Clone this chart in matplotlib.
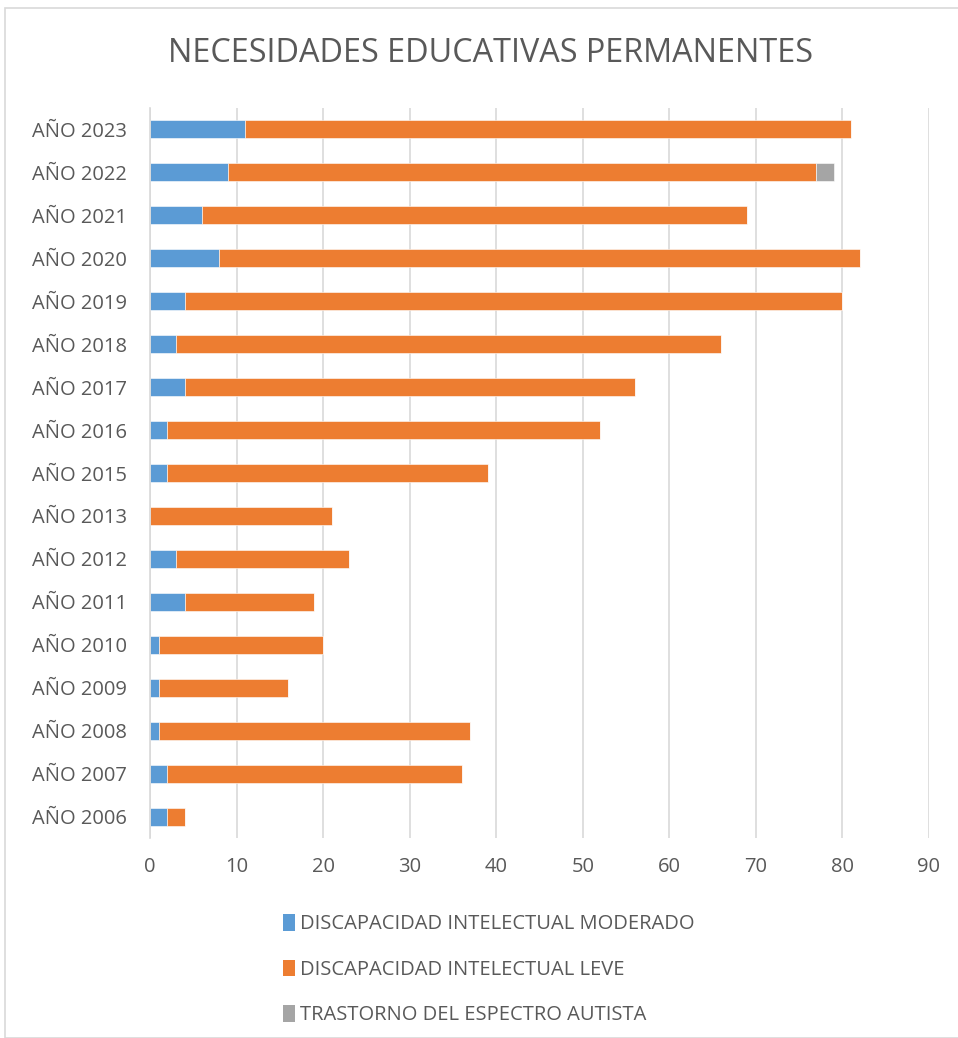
import matplotlib
matplotlib.use("Agg")
import matplotlib.pyplot as plt
from matplotlib.patches import Rectangle, Patch

years = ["AÑO 2006", "AÑO 2007", "AÑO 2008", "AÑO 2009", "AÑO 2010", "AÑO 2011",
         "AÑO 2012", "AÑO 2013", "AÑO 2015", "AÑO 2016", "AÑO 2017", "AÑO 2018",
         "AÑO 2019", "AÑO 2020", "AÑO 2021", "AÑO 2022", "AÑO 2023"]
moderado = [2, 2, 1, 1, 1, 4, 3, 0, 2, 2, 4, 3, 4, 8, 6, 9, 11]
leve = [2, 34, 36, 15, 19, 15, 20, 21, 37, 50, 52, 63, 76, 74, 63, 68, 70]
autista = [0, 0, 0, 0, 0, 0, 0, 0, 0, 0, 0, 0, 0, 0, 0, 2, 0]
series_names = ["DISCAPACIDAD INTELECTUAL MODERADO", "DISCAPACIDAD INTELECTUAL LEVE",
                "TRASTORNO DEL ESPECTRO AUTISTA"]
xticks = [0, 10, 20, 30, 40, 50, 60, 70, 80, 90]

colors = ["#5B9BD5", "#ED7D31", "#A5A5A5"]
txt = "#595959"
plt.rcParams['font.family'] = ['Open Sans', 'DejaVu Sans']

W, H = 958, 1038
fig = plt.figure(figsize=(W / 100, H / 100), dpi=100)
fig.patches.append(Rectangle((5 / W, 0), 1.0, 1 - 8 / H, transform=fig.transFigure,
                             facecolor="none", edgecolor="#D9D9D9", linewidth=1.2))

ax = fig.add_axes([150 / W, 1 - 838 / H, (929 - 150) / W, (838 - 108) / H])
pos = list(range(len(years)))
h = 0.42
left2 = moderado
left3 = [a + b for a, b in zip(moderado, leve)]
ax.barh(pos, moderado, height=h, color=colors[0], edgecolor="white", linewidth=0.4)
ax.barh(pos, leve, left=left2, height=h, color=colors[1], edgecolor="white", linewidth=0.4)
ax.barh(pos, autista, left=left3, height=h, color=colors[2], edgecolor="white", linewidth=0.4)

ax.set_xlim(0, 90)
ax.set_ylim(-0.5, len(years) - 0.5)
ax.set_xticks(xticks)
ax.set_yticks(pos)
ax.set_yticklabels(years)
ax.tick_params(axis="both", length=0, labelsize=14.5, colors=txt)
ax.tick_params(axis="x", pad=14)
ax.tick_params(axis="y", pad=16.5)
ax.grid(axis="x", color="#D9D9D9", linewidth=1.2)
ax.set_axisbelow(True)
for s in ["top", "right", "bottom"]:
    ax.spines[s].set_visible(False)
ax.spines["left"].set_color("#D9D9D9")
ax.spines["left"].set_linewidth(1.2)

fig.text(490 / W, 1 - 54 / H, "NECESIDADES EDUCATIVAS PERMANENTES", ha="center", va="center",
         fontsize=23.3, color=txt)

handles = [Patch(facecolor=c) for c in colors]
fig.legend(handles, series_names, loc="upper left", bbox_to_anchor=(265 / W, 1 - 896 / H),
           frameon=False, fontsize=14.5, labelcolor=txt, handlelength=0.6, handleheight=0.9,
           handletextpad=0.25, labelspacing=1.25)

fig.savefig("out.png", dpi=100)
